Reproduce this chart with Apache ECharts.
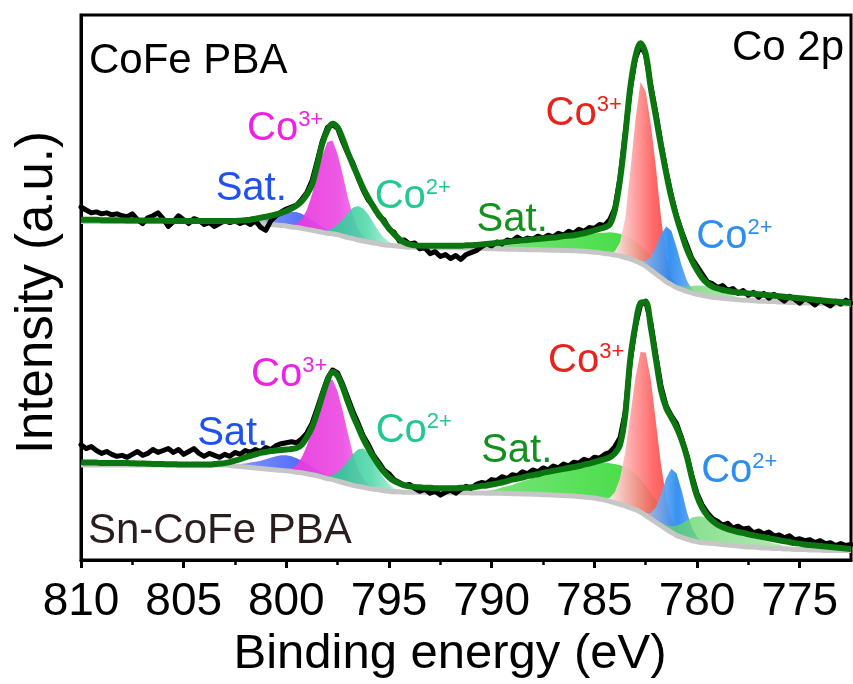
<!DOCTYPE html>
<html>
<head>
<meta charset="utf-8">
<title>Co 2p XPS</title>
<script src="https://cdn.jsdelivr.net/npm/echarts@6.0.0/dist/echarts.min.js"></script>
<style>
  html, body { margin: 0; padding: 0; background: #ffffff; }
  #chart { width: 853px; height: 684px; }
</style>
</head>
<body>
<div id="chart"></div>
<script>
// Every full spectrum array starts at 810 eV and steps down by 0.25 eV (151 points, to 772.5 eV).
const E_START = 810;
const E_STEP = 0.25;
const E_MIN = 772.5;
const xTicks = [810, 805, 800, 795, 790, 785, 780, 775];
const xMinorTicks = [807.5, 802.5, 797.5, 792.5, 787.5, 782.5, 777.5];

// ---- CoFe PBA (upper trace) ----
const rawTop = [
  364,361,358,359,357,358,356,357,
  355,354,357,351,347,353,355,358,
  352,344,349,355,351,347,352,350,
  346,348,344,347,350,348,350,347,
  349,346,350,343,340,350,355,359,
  362,364,366,372,379,391,411,432,
  446,449,445,431,419,409,394,381,
  371,365,355,351,341,338,329,330,
  326,327,321,322,316,318,313,315,
  311,314,310,315,317,319,323,326,
  324,328,326,330,329,333,330,332,
  331,334,332,335,333,337,335,339,
  337,341,339,343,342,346,345,351,
  363,394,439,485,517,531,521,489,
  461,429,401,376,355,339,325,311,
  303,295,287,285,281,283,278,280,
  275,278,273,276,271,275,270,274,
  271,267,272,269,265,270,267,263,
  268,265,262,267,264,268,265
];
const fitTop = [
  351,351,351,351,350.5,350.5,350.5,350.5,
  350.5,350,350,350,350,350,350,350,
  350,349.5,349.5,349.5,349.5,349.5,349.5,349.5,
  349.5,349.5,349.5,349.5,349.5,349.5,349.5,350,
  350.5,351,352,353,354,355,356.5,358,
  360,362.5,365.5,370,377,387,407,429,
  443,450,446,434,420,407,395,383,
  373,364,356,349,342,336,331,327.5,
  325.5,324.5,324,324,324,324,324,324,
  324,324,324,324.5,324.5,325,325.5,326,
  326.5,327,327.5,328,328.5,329,329.5,330,
  330.5,331,331.5,332,332.5,333,334,334.5,
  335,336,337,338.5,340,341.5,343,346,
  361,392,437,487,519,533,522,487,
  457,427,399,374,354,337,321,309,
  299,291,285.5,282,280,278.5,277.5,276.5,
  276,275.5,275,274.5,274,273.5,273,272.5,
  272,271.5,271,270.5,270,269.5,269,268.5,
  268,267.5,267,266.5,266,265.5,265
];
const bgTop = [
  349,349,349,349,349,349,349,349,
  349,349,349,349,349,349,349,349,
  349,349,349,349,349,349,349,349,
  349,349,349,349,349,349,348.8,348.6,
  348.5,348,347.5,347,346.5,346,345.5,345,
  344.5,343.5,343,342,341,340,339,338,
  337,336.5,335.5,334,332.5,331.5,330,329,
  328,327,326,325,324.5,324,323.5,323,
  322.5,322.5,322.5,322,322,322,322,322,
  322,322,321.8,321.6,321.5,321.4,321.2,321.1,
  321,320.9,320.8,320.6,320.5,320.4,320.2,320.1,
  320,319.9,319.8,319.6,319.5,319.4,319.2,319.1,
  319,318.8,318.5,318,317.5,317,316,315.5,
  314.5,313.5,312,310.5,308.5,306,303,299,
  295,291,287,284,281,279,277,275.5,
  274,273,272,271,270.5,270,269.5,269,
  268.5,268,268,267.5,267,267,266.5,266.5,
  266,266,265.5,265.5,265,265,265,264.5,
  264.5,264.5,264,264,264,264,264
];
// fitted components (height above background), each with its first energy
const satA_top_from = 802;
const satA_top = [0.5,1,1.5,2.5,4,6,8.5,11,13.5,15.5,16,15,13,10.5,8,5.5,3.5,2,1.2,0.6,0.3];
const co3a_top_from = 800;
const co3a_top = [0.3,1.3,3.8,9.4,20,37,58,79,94,96,83,63,41,23,11,4.6,1.7,0.5];
const co2a_top_from = 798.5;
const co2a_top = [0.3,1,2.6,5.6,10.6,17.5,25,32,35,33.5,28,20.5,13,7.4,3.6,1.5,0.5];
const satB_top_from = 791;
const satB_top = [0.5,1,1.5,2,2.5,3,3.5,4,4.5,5.2,6,7,7.8,8.6,9.4,10.2,11,12,13,13.8,14.6,15.5,16.5,17.8,19.2,20.5,21.5,22.5,23,23,22.5,21.5,20,18.5,16.5,14,11.5,9,6.8,4.8,3,1.5,0.5];
const co3b_top_from = 784.25;
const co3b_top = [0.5,4,14,40,90,145,187,180,150,110,62,25,8,2,0.5];
const co2b_top_from = 783.25;
const co2b_top = [1,2,3,5.5,13.7,28,45,57,55.5,42,25,11.5,4,1.5,0.5];
const satC_top_from = 781.5;
const satC_top = [0.5,1,2,3.5,5,7,9,10,10,9,8,6.5,5,3.5,2.5,1.5,1,0.5,0.3];

// ---- Sn-CoFe PBA (lower trace) ----
const rawBot = [
  119,115,117,113,110,112,109,107,
  108,106,109,112,108,110,114,111,
  113,115,111,114,109,112,115,110,
  107,110,108,106,109,107,111,109,
  113,111,114,112,116,114,118,120,
  121,122,121,125,131,141,156,172,
  187,196,193,181,167,153,141,128,
  119,108,101,93,89,83,80,77,
  78,74,71,73,69,71,67,70,
  72,69,73,76,74,78,80,79,
  83,82,86,84,88,87,91,89,
  93,91,95,93,97,95,99,97,
  101,100,104,102,106,105,109,111,
  117,126,152,205,241,263,267,245,
  211,179,159,149,141,126,109,87,
  69,57,49,43,40,36,38,33,
  35,32,33,28,30,27,29,25,
  26,23,25,21,22,20,21,18,
  20,17,18,15,17,15,16
];
const fitBot = [
  101,100.5,100.5,100.5,100,100,100,100,
  100,100,99.8,99.6,99.5,99.4,99.2,99.1,
  99,98.9,98.8,98.6,98.5,98.5,98.5,98.5,
  98.5,98.6,99,99.5,100,101,102.5,104,
  106,107.5,109,110.5,111.5,112.5,113,113.5,
  114,114.5,115.5,119,127,137,152,169,
  185,194,190,178,163,149,137,125,
  115,106,98,91,85.5,81.5,79,77,
  76,75.5,75,74.5,74.5,74,74,74,
  74,74,74.5,74.5,75,75.5,76.5,77,
  78,79,80,81.5,83,84,85,86.5,
  87.5,88.5,90,91,92,93,94,95,
  96,97,98.5,99.5,101,102.5,104,106,
  110,119,149,207,242,265,266,240,
  207,175,157,147,137,124,107,85,
  66,54,46,40.5,36.5,34,32,30.5,
  29,28,26.5,25.5,24.5,23.5,22.5,21.5,
  20.5,19.5,18.5,17.5,17,16,15.5,15,
  14.5,14,13.5,13,12.5,12,11.5
];
const bgBot = [
  98,98,98,98,98,98,98,98,
  98,98,98,98,98,98,98,98,
  98,98,98,98,98,98,98,98,
  98,98,98,98,98,97.5,97,96.5,
  96,95.5,95,94.5,94,93.5,93,92.5,
  92,91.5,90.5,90,89,88,87,85.5,
  84,83,81.5,80,78.5,77,76,75,
  74,73,72.5,71.5,71,70.5,70.5,70,
  70,70,70,70,70,69.8,69.6,69.5,
  69.5,69.5,69.5,69.4,69.3,69.2,69.1,69,
  69,68.9,68.8,68.6,68.5,68.4,68.2,68.1,
  68,67.8,67.5,67.3,67,66.8,66.5,66.3,
  66,65.5,65,64.5,64,63,62,60.5,
  59,57.5,56,54,52,49.5,46,42.5,
  39,35.5,32,28.5,25.5,23.5,21.5,20,
  19,18,17.5,17,16.5,16,15.5,15,
  14.5,14,13.5,13.5,13,12.5,12.5,12,
  12,11.5,11.5,11,11,11,10.5,10.5,
  10.5,10,10,10,10,10,10
];
const satA_bot_from = 803;
const satA_bot = [0.5,1,1.5,2.5,3.5,5,6.5,8,10,12,14,15.5,16,15.5,14.5,12.5,10.5,8,6,4.5,3,2,1.2,0.6,0.3];
const co3a_bot_from = 800;
const co3a_bot = [1.1,3.2,7.5,15.7,29,47.6,69,89,102,103,92,73.5,52,32,18,8.8,3.8,1.4,0.5];
const co2a_bot_from = 798.25;
const co2a_bot = [0.7,2,4.7,9.2,16,24,32.5,38.4,40,36.5,29.4,20.8,13,7.1,3.4,1.5,0.5];
const satB_bot_from = 791;
const satB_bot = [0.5,1,1.5,2.2,3,4.5,6,7.5,9,11,13,14.8,16.5,18.2,20,21.8,23.5,25.2,27,28.5,30,31.5,33,34.5,36,37.3,38.5,39.3,40,40.2,40,38.8,37,34.5,31,27,23,19,15,11.5,8,5.5,3.5,2,1];
const co3b_bot_from = 784.5;
const co3b_bot = [1.2,3.9,11,27,55,94.5,136,165,168,143.5,103,62.5,31.6,13.6,4.8,1.4,0.4];
const co2b_bot_from = 782.75;
const co2b_bot = [0.5,1.7,6,15.8,32.6,52.5,65.7,64,48.6,28.8,13.3,4.7,1.5,0.4];
const satC_bot_from = 782;
const satC_bot = [1,2,4,6.5,10,14,19,24,26,27,26,22.5,19.5,18,16,15,13.5,12,11,10,9,7.5,6.5,5,4,3,2,1.2,0.6];

// ---- peak annotations: anchor energy, anchor intensity, colour, text, superscript ----
const peakNotes = [
  [800.06, 445, '#ee22e6', 'Co', '3+'],
  [801.71, 383, '#2050f0', 'Sat.', ''],
  [793.84, 374, '#22c98e', 'Co', '2+'],
  [789.0, 351, '#14901e', 'Sat.', ''],
  [785.52, 460, '#e8231b', 'Co', '3+'],
  [778.18, 333, '#2b8ef0', 'Co', '2+'],
  [799.86, 191, '#ee22e6', 'Co', '3+'],
  [802.61, 130, '#2050f0', 'Sat.', ''],
  [793.79, 133, '#22c98e', 'Co', '2+'],
  [788.78, 112, '#14901e', 'Sat.', ''],
  [785.4, 205, '#e8231b', 'Co', '3+'],
  [777.94, 92, '#2b8ef0', 'Co', '2+']
];

const FONT = '"Liberation Sans", Arial, Helvetica, sans-serif';

const toPoints = (vals, from) => vals.map((v, i) => [from - i * E_STEP, v]);

function hgrad(stops) {
  return new echarts.graphic.LinearGradient(0, 0, 1, 0,
    stops.map(s => ({ offset: s[0], color: s[1] })));
}

// fill colours of the fitted components (horizontal gradients)
const fillStyles = {
  satA: () => hgrad([[0, 'rgba(120,140,250,0.85)'], [1, 'rgba(30,65,245,0.95)']]),
  co3a: () => hgrad([[0, 'rgba(232,55,222,0.95)'], [0.6, 'rgba(236,75,226,0.92)'], [1, 'rgba(244,135,236,0.9)']]),
  co2a: () => hgrad([[0, 'rgba(30,195,140,0.95)'], [0.6, 'rgba(80,215,170,0.88)'], [1, 'rgba(185,245,220,0.8)']]),
  satB: () => hgrad([[0, 'rgba(100,225,100,0.85)'], [1, 'rgba(40,215,40,0.95)']]),
  co3b: () => hgrad([[0, 'rgba(255,248,248,0.96)'], [0.6, 'rgba(255,90,90,0.9)'], [1, 'rgba(250,45,45,0.92)']]),
  co2b: () => hgrad([[0, 'rgba(170,205,250,0.85)'], [0.55, 'rgba(45,140,240,0.95)'], [1, 'rgba(110,175,245,0.85)']]),
  satC: () => hgrad([[0, 'rgba(90,210,100,0.8)'], [1, 'rgba(150,228,150,0.7)']])
};

// A fitted component is the band between the background and background + component height.
function peakArea(bg, heights, from, fill) {
  const k = Math.round((E_START - from) / E_STEP);
  const rows = heights.map((h, i) => [from - i * E_STEP, bg[k + i], bg[k + i] + h]);
  return {
    type: 'custom',
    silent: true,
    clip: true,
    data: rows,
    encode: { x: 0, y: 2 },
    renderItem: function (params, api) {
      if (params.dataIndex !== 0) return null;
      const upper = rows.map(r => api.coord([r[0], r[2]]));
      const lower = rows.map(r => api.coord([r[0], r[1]])).reverse();
      return { type: 'polygon', shape: { points: upper.concat(lower) }, style: { fill: fill } };
    }
  };
}

function spectrum(raw, fit, bg, parts) {
  const out = parts.map(p => peakArea(bg, p[0], p[1], fillStyles[p[2]]()));
  out.push({ type: 'line', data: toPoints(bg, E_START), symbol: 'none', smooth: 0.3, silent: true,
             lineStyle: { color: '#c6c6c6', width: 5 } });
  out.push({ type: 'line', data: toPoints(raw, E_START), symbol: 'none', silent: true,
             lineStyle: { color: '#000000', width: 5, join: 'round', cap: 'round' } });
  out.push({ type: 'line', data: toPoints(fit, E_START), symbol: 'none', smooth: 0.35, silent: true,
             lineStyle: { color: '#0b7510', width: 6, join: 'round' } });
  return out;
}

const series = [].concat(
  spectrum(rawTop, fitTop, bgTop, [
    [satA_top, satA_top_from, 'satA'], [co3a_top, co3a_top_from, 'co3a'], [co2a_top, co2a_top_from, 'co2a'],
    [satB_top, satB_top_from, 'satB'], [co3b_top, co3b_top_from, 'co3b'], [co2b_top, co2b_top_from, 'co2b'],
    [satC_top, satC_top_from, 'satC']
  ]),
  spectrum(rawBot, fitBot, bgBot, [
    [satA_bot, satA_bot_from, 'satA'], [co3a_bot, co3a_bot_from, 'co3a'], [co2a_bot, co2a_bot_from, 'co2a'],
    [satB_bot, satB_bot_from, 'satB'], [co3b_bot, co3b_bot_from, 'co3b'], [co2b_bot, co2b_bot_from, 'co2b'],
    [satC_bot, satC_bot_from, 'satC']
  ])
);

series.push({
  type: 'scatter',
  silent: true,
  symbolSize: 1,
  itemStyle: { color: 'rgba(0,0,0,0)', opacity: 1 },
  z: 10,
  data: peakNotes.map(n => ({
    value: [n[0], n[1]],
    label: {
      show: true,
      position: 'inside',
      opacity: 1,
      formatter: n[4] ? '{b|' + n[3] + '}{s|' + n[4] + '}' : '{b|' + n[3] + '}',
      rich: {
        b: { fontSize: 40, lineHeight: 40, color: n[2], fontFamily: FONT },
        s: { fontSize: 22, lineHeight: 22, color: n[2], fontFamily: FONT, verticalAlign: 'top' }
      }
    }
  }))
});

const chart = echarts.init(document.getElementById('chart'), null, { renderer: 'canvas' });
chart.setOption({
  animation: false,
  backgroundColor: '#ffffff',
  grid: { left: 81, right: 2, top: 15, bottom: 107, show: true, borderColor: '#000', borderWidth: 3,
          backgroundColor: 'transparent' },
  xAxis: [
    {
      type: 'value', inverse: true, min: E_MIN, max: E_START,
      name: 'Binding energy (eV)', nameLocation: 'middle', nameGap: 54,
      nameTextStyle: { fontSize: 49, color: '#000', fontFamily: FONT, padding: [0, 32, 0, 0] },
      axisLine: { show: true, lineStyle: { color: '#000', width: 3 } },
      axisTick: { show: true, customValues: xTicks, length: 8, lineStyle: { color: '#000', width: 3 } },
      axisLabel: { show: true, customValues: xTicks, margin: 19, fontSize: 46, color: '#000', fontFamily: FONT },
      splitLine: { show: false }
    },
    {
      type: 'value', inverse: true, min: E_MIN, max: E_START, position: 'bottom',
      axisLine: { show: false },
      axisTick: { show: true, customValues: xMinorTicks, length: 5, lineStyle: { color: '#000', width: 2.5 } },
      axisLabel: { show: false },
      splitLine: { show: false }
    }
  ],
  yAxis: {
    type: 'value', min: 0, max: 562,
    name: 'Intensity (a.u.)', nameLocation: 'middle', nameGap: 18,
    nameTextStyle: { fontSize: 51, color: '#000', fontFamily: FONT, padding: [0, 10, 0, 0] },
    axisLine: { show: true, lineStyle: { color: '#000', width: 3 } },
    axisTick: { show: false },
    axisLabel: { show: false },
    splitLine: { show: false }
  },
  graphic: [
    { type: 'text', left: 89, top: 40, z: 20,
      style: { text: 'CoFe PBA', fontSize: 42, fontFamily: FONT, fill: '#000' } },
    { type: 'text', right: 9, top: 27, z: 20,
      style: { text: 'Co 2p', fontSize: 42, fontFamily: FONT, fill: '#000' } },
    { type: 'text', left: 88, top: 510, z: 20,
      style: { text: 'Sn-CoFe PBA', fontSize: 42, fontFamily: FONT, fill: '#2a1d1d' } }
  ],
  series: series
});
</script>
</body>
</html>
